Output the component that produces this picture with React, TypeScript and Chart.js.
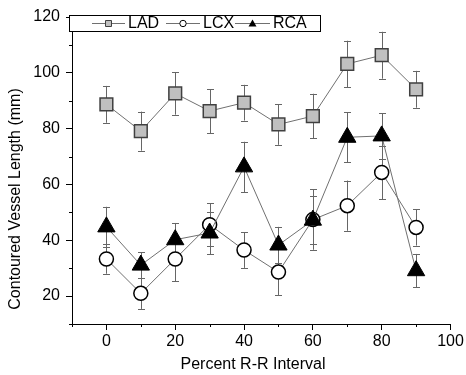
import React, { useEffect, useRef } from "react";
import { Chart, registerables } from "chart.js";

Chart.register(...registerables);

const intervals = [0, 10, 20, 30, 40, 50, 60, 70, 80, 90];
const ladValues = [88.7, 79.1, 92.6, 86.3, 89.3, 81.5, 84.5, 103.2, 106.3, 94.1];
const ladErrors = [6.6, 7.0, 7.6, 7.9, 6.4, 7.3, 8.0, 8.3, 8.4, 6.6];
const lcxValues = [33.3, 21.0, 33.3, 45.6, 36.5, 28.6, 47.4, 52.4, 64.3, 44.6];
const lcxErrors = [5.3, 5.6, 7.9, 7.6, 6.4, 8.2, 10.8, 9.0, 9.6, 6.5];
const rcaValues = [44.8, 31.1, 40.2, 42.6, 66.3, 38.3, 47.2, 76.9, 77.4, 29.1];
const rcaErrors = [7.2, 4.6, 6.0, 7.6, 9.0, 6.5, 8.5, 9.0, 8.2, 6.0];

const xMajorTicks = [0, 20, 40, 60, 80, 100];
const xMinorTicks = [-10, 10, 30, 50, 70, 90];
const yMajorTicks = [20, 40, 60, 80, 100, 120];
const yMinorTicks = [10, 30, 50, 70, 90, 110];

const FONT = "'Liberation Sans', Arial, sans-serif";

const errorBarPlugin = {
  id: "errorBars",
  beforeDatasetsDraw(chart: any) {
    const ctx = chart.ctx;
    const yScale = chart.scales.y;
    ctx.save();
    ctx.strokeStyle = "#666";
    ctx.lineWidth = 1;
    chart.data.datasets.forEach((ds: any, i: number) => {
      const meta = chart.getDatasetMeta(i);
      const errs: number[] = ds.errors || [];
      meta.data.forEach((pt: any, j: number) => {
        const v = ds.data[j].y;
        const e = errs[j];
        const x = Math.round(pt.x) + 0.5;
        const yTop = yScale.getPixelForValue(v + e);
        const yBot = yScale.getPixelForValue(v - e);
        ctx.beginPath();
        ctx.moveTo(x, yTop);
        ctx.lineTo(x, yBot);
        ctx.moveTo(x - 3.5, Math.round(yTop) + 0.5);
        ctx.lineTo(x + 3.5, Math.round(yTop) + 0.5);
        ctx.moveTo(x - 3.5, Math.round(yBot) + 0.5);
        ctx.lineTo(x + 3.5, Math.round(yBot) + 0.5);
        ctx.stroke();
      });
    });
    ctx.restore();
  },
};

const decorPlugin = {
  id: "decor",
  afterDraw(chart: any) {
    const ctx = chart.ctx;
    const xs = chart.scales.x;
    const ys = chart.scales.y;
    const area = chart.chartArea;
    ctx.save();
    // minor ticks
    ctx.strokeStyle = "#000";
    ctx.lineWidth = 1;
    ctx.beginPath();
    xMinorTicks.forEach((v) => {
      const px = Math.round(xs.getPixelForValue(v)) + 0.5;
      ctx.moveTo(px, area.bottom);
      ctx.lineTo(px, area.bottom + 3);
    });
    yMinorTicks.forEach((v) => {
      const py = Math.round(ys.getPixelForValue(v)) + 0.5;
      ctx.moveTo(area.left, py);
      ctx.lineTo(area.left - 3, py);
    });
    ctx.stroke();

    // axis titles
    ctx.fillStyle = "#000";
    ctx.font = `16px ${FONT}`;
    ctx.textAlign = "center";
    ctx.textBaseline = "middle";
    ctx.fillText("Percent R-R Interval", 253, 365);
    ctx.save();
    ctx.translate(16, 199);
    ctx.rotate(-Math.PI / 2);
    ctx.fillText("Contoured Vessel Length (mm)", 0, 0);
    ctx.restore();

    // legend
    const bx = 69.5, by = 15.5, bw = 251, bh = 16;
    ctx.fillStyle = "#fff";
    ctx.fillRect(bx, by, bw, bh);
    ctx.strokeStyle = "#000";
    ctx.strokeRect(bx, by, bw, bh);
    const cy = 23.5;
    const items = [
      { label: "LAD", x0: 92, x1: 125, sym: "rect", tx: 128 },
      { label: "LCX", x0: 166, x1: 200, sym: "circle", tx: 203 },
      { label: "RCA", x0: 235, x1: 270, sym: "triangle", tx: 273 },
    ];
    items.forEach((it) => {
      ctx.strokeStyle = "#707070";
      ctx.lineWidth = 1;
      ctx.beginPath();
      ctx.moveTo(it.x0, cy);
      ctx.lineTo(it.x1, cy);
      ctx.stroke();
      const mx = (it.x0 + it.x1) / 2;
      ctx.beginPath();
      if (it.sym === "rect") {
        ctx.fillStyle = "#c0c0c0";
        ctx.strokeStyle = "#404040";
        ctx.rect(mx - 3, cy - 3, 6, 6);
        ctx.fill();
        ctx.stroke();
      } else if (it.sym === "circle") {
        ctx.fillStyle = "#fff";
        ctx.strokeStyle = "#000";
        ctx.arc(mx, cy, 3.2, 0, Math.PI * 2);
        ctx.fill();
        ctx.stroke();
      } else {
        ctx.fillStyle = "#000";
        ctx.moveTo(mx, cy - 4);
        ctx.lineTo(mx + 4, cy + 3);
        ctx.lineTo(mx - 4, cy + 3);
        ctx.closePath();
        ctx.fill();
      }
      ctx.fillStyle = "#000";
      ctx.font = `16px ${FONT}`;
      ctx.textAlign = "left";
      ctx.textBaseline = "middle";
      ctx.fillText(it.label, it.tx, cy + 0.5);
    });
    ctx.restore();
  },
};

const toPoints = (vals: number[]) => intervals.map((x, i) => ({ x, y: vals[i] }));

export default function App() {
  const canvasRef = useRef<HTMLCanvasElement | null>(null);

  useEffect(() => {
    if (!canvasRef.current) return;
    const chart = new Chart(canvasRef.current, {
      type: "line",
      data: {
        datasets: [
          {
            label: "LAD",
            data: toPoints(ladValues),
            errors: ladErrors,
            borderColor: "#707070",
            borderWidth: 1,
            pointStyle: "rect",
            pointRadius: 9,
            pointBackgroundColor: "#c0c0c0",
            pointBorderColor: "#404040",
            pointBorderWidth: 1.5,
            order: 2,
          } as any,
          {
            label: "LCX",
            data: toPoints(lcxValues),
            errors: lcxErrors,
            borderColor: "#707070",
            borderWidth: 1,
            pointStyle: "circle",
            pointRadius: 7,
            pointBackgroundColor: "#fff",
            pointBorderColor: "#000",
            pointBorderWidth: 1.5,
            order: 1,
          } as any,
          {
            label: "RCA",
            data: toPoints(rcaValues),
            errors: rcaErrors,
            borderColor: "#707070",
            borderWidth: 1,
            pointStyle: "triangle",
            pointRadius: 10,
            pointBackgroundColor: "#000",
            pointBorderColor: "#000",
            pointBorderWidth: 1,
            order: 0,
          } as any,
        ],
      },
      options: {
        responsive: false,
        animation: false,
        clip: false as any,
        layout: { padding: { left: 0, top: 17, right: 15.5, bottom: 0 } },
        plugins: {
          legend: { display: false },
          tooltip: { enabled: false },
          title: { display: false },
        },
        scales: {
          x: {
            type: "linear",
            min: -10,
            max: 100,
            afterBuildTicks: (scale: any) => {
              scale.ticks = xMajorTicks.map((v) => ({ value: v }));
            },
            afterFit: (scale: any) => {
              scale.height = 51;
              scale.paddingLeft = 0;
              scale.paddingRight = 0;
            },
            grid: {
              display: true,
              drawOnChartArea: false,
              drawTicks: true,
              tickLength: 6,
              color: "#000",
            },
            border: { display: true, color: "#000", width: 1 },
            ticks: {
              color: "#000",
              font: { family: FONT, size: 16 },
              padding: 2,
              maxRotation: 0,
              autoSkip: false,
            },
          },
          y: {
            type: "linear",
            min: 10,
            max: 120,
            afterBuildTicks: (scale: any) => {
              scale.ticks = yMajorTicks.map((v) => ({ value: v }));
            },
            afterFit: (scale: any) => {
              scale.width = 72;
              scale.paddingTop = 0;
              scale.paddingBottom = 0;
            },
            grid: {
              display: true,
              drawOnChartArea: false,
              drawTicks: true,
              tickLength: 6,
              color: "#000",
            },
            border: { display: true, color: "#000", width: 1 },
            ticks: {
              color: "#000",
              font: { family: FONT, size: 16 },
              padding: 6,
              autoSkip: false,
            },
          },
        },
      } as any,
      plugins: [errorBarPlugin, decorPlugin],
    });
    return () => chart.destroy();
  }, []);

  return (
    <div style={{ position: "absolute", left: 0, top: 0, width: 466, height: 375, background: "#fff" }}>
      <canvas ref={canvasRef} width={466} height={375} style={{ width: 466, height: 375, display: "block" }} />
    </div>
  );
}
